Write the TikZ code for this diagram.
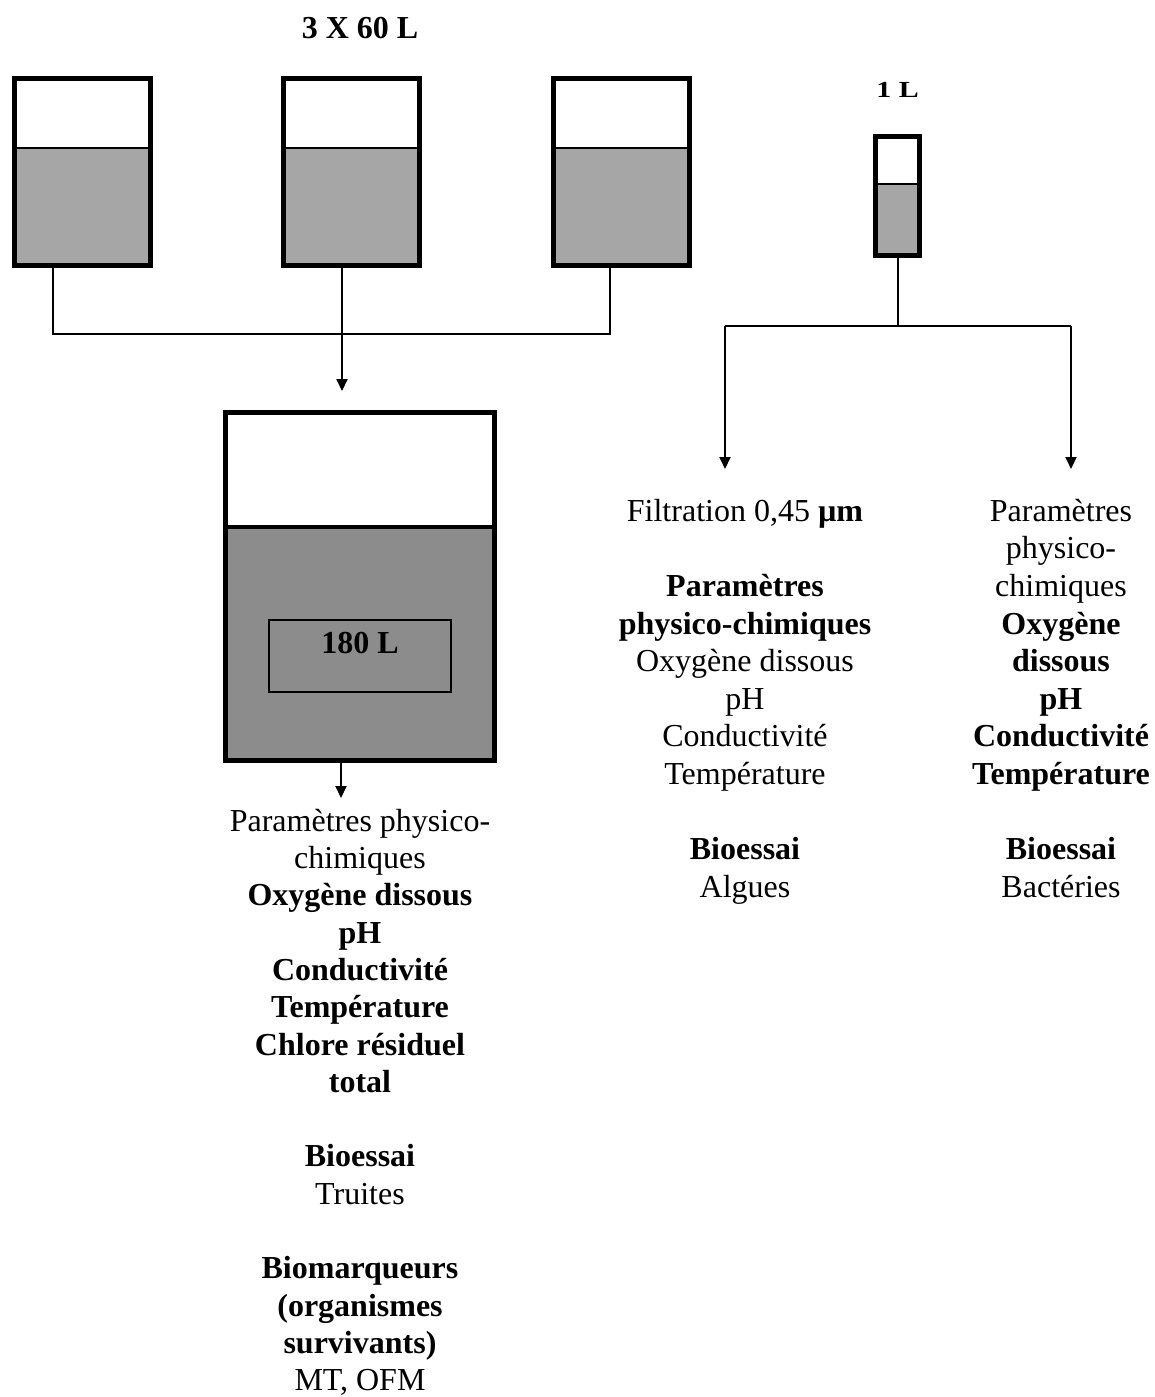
\documentclass[tikz,border=0pt]{standalone}
\usepackage{fontspec}
\usepackage{graphicx}
\setmainfont{Liberation Serif}
\usetikzlibrary{arrows.meta}
\definecolor{lightwater}{HTML}{A6A6A6}
\definecolor{darkwater}{HTML}{8C8C8C}
\tikzset{
  tank/.style={draw=black, line width=5pt, inner sep=0pt, rectangle},
  surface/.style={draw=black, line width=2.5pt},
  conn/.style={draw=black, line width=2pt},
  arr/.style={conn, -{Triangle[length=12pt,width=11pt]}},
  label/.style={inner sep=0pt, font={\fontsize{32}{37.3}\selectfont\bfseries}},
  smalllabel/.style={inner sep=0pt, font={\fontsize{23}{27}\selectfont\bfseries}},
  colL/.style={inner sep=0pt, align=center, anchor=north, font={\fontsize{32}{37.3}\selectfont}},
  colR/.style={inner sep=0pt, align=center, anchor=north, font={\fontsize{32}{37.6}\selectfont}},
}
\begin{document}
\begin{tikzpicture}[x=1pt,y=-1pt]
\useasboundingbox (0,0) rectangle (1154,1397);

% ---- three 60 L tanks
\foreach \cx/\nm in {82/t1, 351.5/t2, 621/t3}{
  \fill[white] (\cx-68,78) rectangle (\cx+68,148);
  \fill[lightwater] (\cx-68,148) rectangle (\cx+68,265);
  \draw[surface] (\cx-68,148) -- (\cx+68,148);
  \node[tank, minimum width=136pt, minimum height=187pt] (\nm) at (\cx,171.5) {};
}
\node[label, anchor=base] (title) at (360,39) {3 X 60 L};

% ---- 1 L tank
\fill[white] (875.5,136.5) rectangle (919.5,184);
\fill[lightwater] (875.5,184) rectangle (919.5,255.5);
\draw[surface] (875.5,184) -- (919.5,184);
\node[tank, minimum width=44pt, minimum height=119pt] (small) at (897.5,196) {};
\node[smalllabel, anchor=base] (title1) at (897.5,97) {\scalebox{1.3}[1.0]{1 L}};

% ---- 180 L tank
\fill[white] (225.5,412.5) rectangle (494.5,527);
\fill[darkwater] (225.5,527) rectangle (494.5,760.5);
\draw[black, line width=4pt] (225.5,527) -- (494.5,527);
\node[tank, minimum width=269pt, minimum height=348pt] (big) at (360,586.5) {};
\node[draw=black, line width=2pt, inner sep=0pt, minimum width=182pt, minimum height=72pt] (vol) at (360,656) {};
\node[label, anchor=base] (vollabel) at (360,653) {180 L};

% ---- connectors, left group
\coordinate (j1) at (53,334);
\coordinate (j3) at (610,334);
\coordinate (a2) at (342,391);
\draw[conn] (j1 |- t1.south) -- (j1) -- (j3) -- (j3 |- t3.south);
\draw[arr] (a2 |- t2.south) -- (a2);
\coordinate (a3) at (341,798);
\draw[arr] (a3 |- big.south) -- (a3);

% ---- connectors, right group
\coordinate (jm) at (897.5,326);
\coordinate (jl) at (725,326);
\coordinate (jr) at (1071,326);
\coordinate (al) at (725,469);
\coordinate (ar) at (1071,469);
\draw[conn] (small.south) -- (jm);
\draw[conn] (jl) -- (jr);
\draw[arr] (jl) -- (al);
\draw[arr] (jr) -- (ar);

% ---- texts
\node[colL] (txtL) at (360,803) {\rule{0pt}{28pt}Paramètres physico-\\
chimiques\\
\textbf{Oxygène dissous}\\
\textbf{pH}\\
\textbf{Conductivité}\\
\textbf{Température}\\
\textbf{Chlore résiduel}\\
\textbf{total}\\[37.3pt]
\textbf{Bioessai}\\
Truites\\[37.3pt]
\textbf{Biomarqueurs}\\
\textbf{(organismes}\\
\textbf{survivants)}\\
MT, OFM};

\node[colR] (txtM) at (745,493) {\rule{0pt}{28pt}Filtration 0,45 \textbf{µm}\\[37.6pt]
\textbf{Paramètres}\\
\textbf{physico-chimiques}\\
Oxygène dissous\\
pH\\
Conductivité\\
Température\\[37.6pt]
\textbf{Bioessai}\\
Algues};

\node[colR] (txtR) at (1061,493) {\rule{0pt}{28pt}Paramètres\\
physico-\\
chimiques\\
\textbf{Oxygène}\\
\textbf{dissous}\\
\textbf{pH}\\
\textbf{Conductivité}\\
\textbf{Température}\\[37.6pt]
\textbf{Bioessai}\\
Bactéries};
\end{tikzpicture}
\end{document}
